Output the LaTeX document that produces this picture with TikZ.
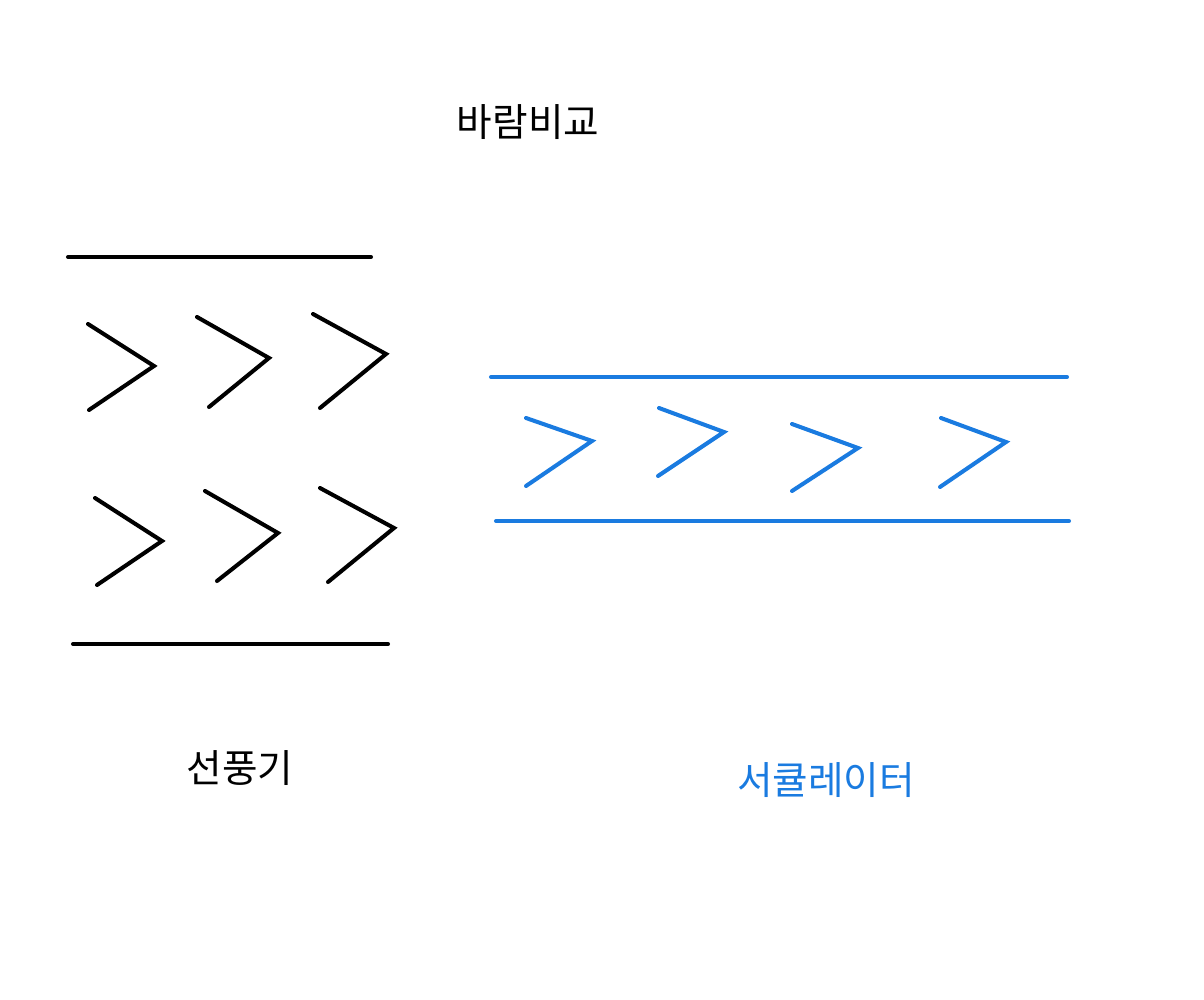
\documentclass[tikz,border=0pt]{standalone}
\usepackage{fontspec}
\setmainfont{Noto Sans CJK KR}
\usetikzlibrary{positioning}
\definecolor{circblue}{HTML}{1A7BE0}

\begin{document}
\begin{tikzpicture}[x=0.02cm, y=-0.02cm, line cap=round, line join=miter]
	\tikzstyle{wind}=[line width=2.3pt]
	\tikzstyle{title}=[font=\fontsize{22}{26}\selectfont]
	\useasboundingbox (0,0) rectangle (1204,1000);
	% % Titles
	\node[title](compare) at (528,122) {바람비교};
	\node[title](fan) at (240,768) {선풍기};
	\node[title, text=circblue](circ) at (826,780) {서큘레이터};
	% % Fan (black)
	\draw[wind] (68,257) -- (371,257);
	\draw[wind] (73,644) -- (388,644);
	\draw[wind] (88,324) -- (154,366) -- (89,410);
	\draw[wind] (197,317) -- (269,358) -- (209,407);
	\draw[wind] (313,314) -- (386,354) -- (320,408);
	\draw[wind] (95,498) -- (162,541) -- (97,585);
	\draw[wind] (205,491) -- (278,533) -- (217,581);
	\draw[wind] (320,488) -- (394,528) -- (328,582);
	% % Circulator (blue)
	\draw[wind, circblue] (491,377) -- (1067,377);
	\draw[wind, circblue] (496,521) -- (1069,521);
	\draw[wind, circblue] (526,418) -- (592,441) -- (526,486);
	\draw[wind, circblue] (659,408) -- (724,432) -- (658,476);
	\draw[wind, circblue] (792,424) -- (858,448) -- (792,491);
	\draw[wind, circblue] (941,418) -- (1006,442) -- (940,487);
\end{tikzpicture}
\end{document}
